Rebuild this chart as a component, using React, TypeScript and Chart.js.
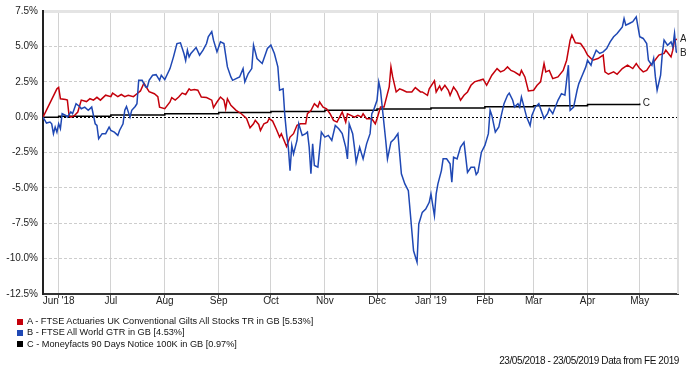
import React, { useEffect, useRef } from "react";
import { Chart, registerables } from "chart.js";

Chart.register(...registerables);

// Days since 23/05/2018 and cumulative performance (%)
const aDays = [0, 8, 9, 10, 13, 14, 15, 16, 18, 20, 22, 25, 27, 29, 31, 33, 36, 39, 40, 43, 45, 47, 49, 52, 54, 56, 58, 60, 61, 64, 66, 67, 70, 73, 74, 76, 78, 80, 82, 84, 85, 87, 89, 91, 94, 97, 98, 100, 102, 104, 105, 106, 108, 111, 114, 117, 119, 121, 122, 124, 125, 127, 129, 130, 132, 134, 136, 137, 140, 142, 144, 146, 148, 151, 152, 154, 156, 158, 159, 161, 163, 165, 167, 169, 171, 172, 174, 175, 177, 179, 181, 183, 184, 186, 189, 191, 192, 194, 196, 198, 199, 200, 201, 203, 205, 207, 209, 212, 214, 217, 218, 221, 222, 225, 226, 228, 229, 231, 233, 234, 236, 238, 240, 242, 244, 246, 248, 251, 253, 255, 256, 258, 261, 263, 265, 267, 269, 271, 274, 275, 277, 279, 282, 284, 286, 288, 289, 291, 293, 296, 299, 301, 303, 304, 306, 309, 311, 313, 316, 319, 322, 323, 325, 328, 330, 333, 336, 339, 341, 343, 345, 347, 349, 351, 354, 357, 358, 361, 362, 363, 365];
const aValues = [0, 2.0, 2.1, 1.3, 1.25, 1.2, 0.1, 0.0, 0.1, 0.36, 1.2, 1.1, 1.3, 1.2, 1.4, 1.2, 1.55, 1.45, 1.7, 1.45, 1.6, 1.45, 1.55, 1.45, 1.65, 1.85, 2.4, 2.0, 1.8, 1.65, 1.45, 0.7, 0.6, 1.07, 1.38, 1.2, 1.42, 1.7, 1.6, 2.0, 1.9, 1.95, 1.9, 1.42, 1.38, 1.2, 0.67, 1.07, 1.42, 1.2, 0.6, 1.3, 0.83, 0.48, 0.24, -0.1, -0.75, -0.47, -0.23, -0.52, -0.94, -0.47, -0.35, -0.1, -0.28, -0.82, -1.41, -1.17, -2.07, -1.41, -1.17, -0.58, -0.47, -0.47, 0.24, 0.47, 0.95, 0.71, 1.07, 0.71, 0.59, 0.24, -0.23, -0.35, 0.12, 0.36, -0.35, 0.24, 0.12, 0.0, 0.12, 0.0, 0.24, -0.12, -0.12, -0.47, -0.12, 0.71, 0.71, 1.66, 2.13, 3.55, 2.84, 1.78, 2.0, 1.9, 1.78, 1.78, 2.09, 1.78, 1.78, 1.54, 2.0, 2.56, 1.78, 2.2, 1.9, 2.25, 1.9, 1.54, 2.13, 1.78, 1.19, 1.54, 1.78, 2.25, 2.49, 2.6, 2.68, 2.25, 2.49, 2.96, 3.43, 3.2, 3.3, 3.55, 3.3, 3.2, 2.96, 3.3, 2.84, 1.85, 1.9, 2.25, 2.49, 3.79, 3.2, 3.3, 2.72, 2.84, 3.3, 4.02, 5.44, 5.8, 5.25, 5.2, 4.85, 4.38, 4.02, 4.14, 4.38, 3.2, 3.03, 3.2, 3.03, 3.43, 3.67, 3.43, 3.79, 3.43, 3.2, 3.3, 3.67, 3.9, 4.38, 4.5, 4.73, 4.26, 4.73, 5.44, 5.53];

const bDays = [0, 2, 4, 5, 6, 7, 8, 9, 10, 11, 13, 14, 16, 17, 19, 21, 22, 24, 26, 28, 30, 31, 32, 34, 36, 38, 39, 41, 43, 44, 46, 47, 48, 50, 51, 53, 54, 55, 57, 59, 60, 61, 63, 65, 67, 68, 70, 73, 75, 77, 79, 81, 82, 83, 84, 85, 88, 90, 92, 94, 95, 97, 98, 100, 102, 104, 106, 108, 109, 111, 113, 115, 116, 118, 120, 121, 123, 124, 126, 128, 129, 131, 133, 135, 136, 138, 139, 140, 141, 142, 143, 144, 145, 146, 147, 149, 151, 152, 153, 154, 155, 156, 158, 160, 162, 164, 166, 168, 170, 172, 174, 175, 176, 178, 179, 180, 182, 184, 186, 188, 189, 190, 192, 193, 194, 195, 197, 198, 200, 202, 204, 206, 208, 210, 211, 212, 213, 215, 216, 218, 220, 222, 223, 224, 225, 226, 227, 229, 230, 232, 234, 235, 236, 238, 240, 242, 243, 244, 246, 248, 249, 250, 252, 254, 256, 257, 258, 260, 262, 263, 265, 267, 268, 270, 271, 273, 274, 275, 276, 278, 280, 281, 283, 285, 288, 290, 291, 293, 296, 298, 300, 302, 303, 305, 307, 308, 310, 312, 313, 315, 316, 318, 320, 322, 324, 326, 328, 330, 333, 334, 335, 337, 339, 341, 342, 343, 345, 347, 348, 350, 351, 352, 353, 355, 356, 357, 359, 361, 362, 363, 364, 365];
const bValues = [0, -0.42, -0.35, -0.47, -1.17, -0.7, -1.06, -0.47, -0.82, 0.24, 0.12, 0.0, 0.36, 0.24, 0.95, 0.75, 0.59, 0.71, 0.48, 0.71, -0.47, -0.59, -1.53, -1.17, -1.17, -0.7, -0.94, -1.06, -1.29, -0.94, -0.47, 0.48, 0.75, 0.0, 0.48, 0.75, 0.95, 2.6, 2.6, 2.13, 2.13, 2.6, 2.96, 3.0, 2.6, 2.96, 2.65, 3.43, 4.26, 5.2, 5.25, 4.5, 4.0, 4.73, 4.26, 4.5, 4.92, 4.38, 4.73, 5.2, 5.68, 6.04, 5.44, 4.61, 5.32, 5.2, 3.55, 2.84, 2.6, 2.72, 2.84, 3.43, 2.49, 3.08, 3.43, 5.09, 4.14, 4.02, 3.79, 4.5, 4.85, 5.09, 4.5, 3.55, 1.9, 2.0, 0.12, -1.17, -2.12, -3.78, -2.0, -2.6, -2.12, -1.65, -0.47, -1.29, -1.17, -1.06, -2.12, -4.0, -1.89, -3.42, -3.54, -1.06, -1.41, -1.29, -1.65, -0.59, -0.82, -1.17, -2.12, -2.95, -0.47, -1.17, -2.12, -3.19, -2.12, -2.95, -1.89, -1.17, 0.24, 0.48, 1.19, 2.49, 1.9, 0.71, -1.65, -2.95, -1.77, -1.53, -1.17, -4.0, -4.72, -5.2, -6.6, -8.03, -9.45, -10.25, -7.55, -6.73, -6.5, -6.02, -5.43, -6.2, -6.97, -5.43, -4.72, -3.78, -2.95, -2.95, -3.3, -4.6, -2.83, -2.95, -2.12, -1.77, -2.83, -3.9, -3.54, -3.54, -4.06, -3.9, -2.48, -2.0, -1.17, 0.48, 0.12, -1.06, -0.7, -0.1, 0.95, 1.54, 1.7, 1.19, 0.71, 0.95, 0.71, 1.42, 0.95, 0.0, -0.59, 0.12, 0.71, 0.95, -0.1, 0.24, 0.6, 0.24, 1.19, 1.66, 1.55, 3.67, 0.48, 0.71, 1.9, 2.37, 2.96, 3.55, 4.02, 3.67, 4.14, 4.73, 4.5, 4.61, 4.85, 5.32, 5.68, 5.91, 6.38, 6.97, 6.5, 6.62, 6.74, 7.09, 6.38, 5.68, 5.56, 5.2, 4.02, 3.67, 4.14, 2.84, 1.9, 2.96, 4.5, 5.44, 5.08, 5.32, 4.97, 5.91, 4.61, 4.53];

const cDays = [0, 9, 39, 70, 101, 131, 162, 192, 223, 254, 282, 313, 343];
const cValues = [0, 0.07, 0.15, 0.23, 0.32, 0.4, 0.49, 0.57, 0.65, 0.73, 0.81, 0.89, 0.97];

const monthDays = [9, 39, 70, 101, 131, 162, 192, 223, 254, 282, 313, 343];
const monthLabels = ["Jun '18", "Jul", "Aug", "Sep", "Oct", "Nov", "Dec", "Jan '19", "Feb", "Mar", "Apr", "May"];

const yTicks = [-12.5, -10, -7.5, -5, -2.5, 0, 2.5, 5, 7.5];

const seriesNames = [
  "A - FTSE Actuaries UK Conventional Gilts All Stocks TR in GB [5.53%]",
  "B - FTSE All World GTR in GB [4.53%]",
  "C - Moneyfacts 90 Days Notice 100K in GB [0.97%]",
];
const seriesLetters = ["A", "B", "C"];
const seriesColors = ["#c4000b", "#1f48b4", "#000000"];
const footerText = "23/05/2018 - 23/05/2019 Data from FE 2019";

const FONT = "'Liberation Sans', Arial, sans-serif";

const toPoints = (days: number[], vals: number[]) => days.map((d, i) => ({ x: d, y: vals[i] }));

const endLabels = {
  id: "endLabels",
  afterDatasetsDraw(chart: any) {
    const { ctx, chartArea } = chart;
    ctx.save();
    ctx.font = `10px ${FONT}`;
    ctx.fillStyle = "#222";
    ctx.textBaseline = "middle";
    ctx.textAlign = "left";
    chart.data.datasets.forEach((ds: any, i: number) => {
      const meta = chart.getDatasetMeta(i);
      const last = meta.data[meta.data.length - 1];
      if (!last) return;
      const x = i < 2 ? chartArea.right + 2 : last.x + 3;
      ctx.fillText(seriesLetters[i], x, last.y);
    });
    // right border of plot
    ctx.strokeStyle = "#dedede";
    ctx.lineWidth = 2;
    ctx.beginPath();
    ctx.moveTo(chartArea.right, chartArea.top - 1);
    ctx.lineTo(chartArea.right, chartArea.bottom);
    ctx.stroke();
    ctx.restore();
  },
};

export default function App() {
  const ref = useRef<HTMLCanvasElement | null>(null);

  useEffect(() => {
    if (!ref.current) return;
    const chart = new Chart(ref.current, {
      type: "line",
      data: {
        datasets: [
          { label: seriesNames[0], data: toPoints(aDays, aValues), borderColor: seriesColors[0], backgroundColor: seriesColors[0], borderWidth: 1.5, pointRadius: 0, tension: 0, order: 2 },
          { label: seriesNames[1], data: toPoints(bDays, bValues), borderColor: seriesColors[1], backgroundColor: seriesColors[1], borderWidth: 1.5, pointRadius: 0, tension: 0, order: 1 },
          { label: seriesNames[2], data: toPoints(cDays, cValues), borderColor: seriesColors[2], backgroundColor: seriesColors[2], borderWidth: 1.5, pointRadius: 0, tension: 0, stepped: "before", order: 3 },
        ],
      },
      options: {
        responsive: false,
        animation: false,
        events: [],
        layout: { padding: { left: 0, top: 11, right: 8, bottom: 60 } },
        plugins: { legend: { display: false }, tooltip: { enabled: false } },
        scales: {
          x: {
            type: "linear",
            min: 0,
            max: 365,
            afterBuildTicks: (scale: any) => {
              scale.ticks = monthDays.map((v) => ({ value: v }));
            },
            afterFit: (scale: any) => {
              scale.height = 14;
            },
            ticks: {
              autoSkip: false,
              maxRotation: 0,
              padding: -3,
              color: "#222",
              font: { family: FONT, size: 10 },
              callback: (_v: any, i: number) => monthLabels[i],
            },
            grid: { color: "#d2d2d2", lineWidth: 1, tickLength: 4, tickColor: "#555" },
            border: { color: "#333", width: 2 },
          },
          y: {
            min: -12.5,
            max: 7.5,
            afterBuildTicks: (scale: any) => {
              scale.ticks = yTicks.map((v) => ({ value: v }));
            },
            afterFit: (scale: any) => {
              scale.width = 43;
            },
            ticks: {
              padding: 5,
              color: "#222",
              font: { family: FONT, size: 10 },
              callback: (v: any) => Number(v).toFixed(1) + "%",
            },
            grid: {
              drawTicks: false,
              color: (c: any) => {
                const v = c.tick ? c.tick.value : null;
                if (v === 0) return "#000";
                if (v === 7.5) return "#e4e4e4";
                if (v === -12.5) return "rgba(0,0,0,0)";
                return "#cdcdcd";
              },
              lineWidth: (c: any) => (c.tick && c.tick.value === 7.5 ? 3 : 1),
            },
            border: {
              color: "#222",
              width: 2,
              dash: (c: any) => {
                const v = c.tick ? c.tick.value : null;
                if (v === 7.5) return [];
                if (v === 0) return [2, 2];
                return [3, 2];
              },
            },
          },
        },
      },
      plugins: [endLabels],
    } as any);
    return () => chart.destroy();
  }, []);

  return (
    <div style={{ position: "fixed", left: 0, top: 0, width: 686, height: 368, background: "#fff", fontFamily: FONT }}>
      <canvas ref={ref} width={686} height={368} style={{ position: "absolute", left: 0, top: 0, width: 686, height: 368 }} />
      <div style={{ position: "absolute", left: 17, top: 316, fontSize: 9.2, color: "#111", lineHeight: "11.3px" }}>
        {seriesNames.map((n, i) => (
          <div key={i} style={{ display: "flex", alignItems: "center", whiteSpace: "nowrap" }}>
            <span style={{ display: "inline-block", width: 6, height: 6, background: seriesColors[i], marginRight: 4 }} />
            <span>{n}</span>
          </div>
        ))}
      </div>
      <div style={{ position: "absolute", right: 7, top: 355, fontSize: 10, letterSpacing: "-0.4px", color: "#111", whiteSpace: "nowrap", lineHeight: "12px" }}>
        {footerText}
      </div>
    </div>
  );
}
